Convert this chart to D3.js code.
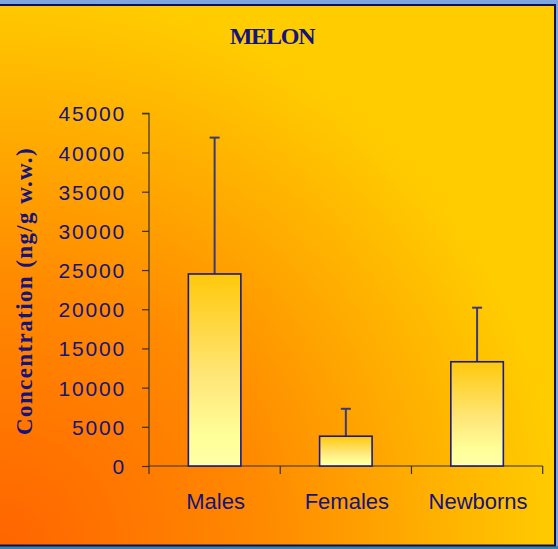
<!DOCTYPE html>
<html><head><meta charset="utf-8">
<script src="https://cdn.jsdelivr.net/npm/d3@7"></script>
<style>html,body{margin:0;padding:0;background:#7fa6de;}svg{display:block;}</style>
</head><body>
<script>
const title = "MELON";
const yLabel = "Concentration (ng/g w.w.)";
const categories = ["Males", "Females", "Newborns"];
const means = [24500, 3800, 13300];
const errorTops = [41900, 7300, 20200];
const yTicks = [0, 5000, 10000, 15000, 20000, 25000, 30000, 35000, 40000, 45000];

(function () {
const W = 558, H = 549;
const svg = d3.select("body").append("svg").attr("width", W).attr("height", H);
const defs = svg.append("defs");

const bg = defs.append("radialGradient").attr("id", "bg")
  .attr("gradientUnits", "userSpaceOnUse").attr("cx", 0).attr("cy", 549).attr("r", 590);
bg.append("stop").attr("offset", 0).attr("stop-color", "#ff6400");
bg.append("stop").attr("offset", 0.45).attr("stop-color", "#ff8a00");
bg.append("stop").attr("offset", 0.72).attr("stop-color", "#ffae00");
bg.append("stop").attr("offset", 0.95).attr("stop-color", "#ffcc00");

const barG = defs.append("linearGradient").attr("id", "bar")
  .attr("x1", 0).attr("y1", 0).attr("x2", 0).attr("y2", 1);
barG.append("stop").attr("offset", 0).attr("stop-color", "#ffc80a");
barG.append("stop").attr("offset", 0.55).attr("stop-color", "#ffe77a");
barG.append("stop").attr("offset", 0.85).attr("stop-color", "#ffff99");
barG.append("stop").attr("offset", 1).attr("stop-color", "#ffffa8");

// frame
svg.append("rect").attr("x", 0).attr("y", 0).attr("width", W).attr("height", H).attr("fill", "#7fa6de");
svg.append("rect").attr("x", 0).attr("y", 546).attr("width", W).attr("height", 3).attr("fill", "#3a86a8");
svg.append("rect").attr("x", 0).attr("y", 5).attr("width", 555).attr("height", 540).attr("fill", "url(#bg)");
svg.append("line").attr("x1", 0).attr("x2", 556).attr("y1", 5).attr("y2", 5).attr("stroke", "#10105a").attr("stroke-width", 2);
svg.append("line").attr("x1", 555).attr("x2", 555).attr("y1", 4).attr("y2", 546).attr("stroke", "#10105a").attr("stroke-width", 2);
svg.append("line").attr("x1", 0).attr("x2", 556).attr("y1", 545.5).attr("y2", 545.5).attr("stroke", "#10105a").attr("stroke-width", 2);

const pLeft = 149, pRight = 542.7, pTop = 113.3, pBottom = 466;
const x = d3.scaleBand().domain(categories).range([pLeft, pRight]).paddingInner(0.6).paddingOuter(0.3);
const xb = d3.scaleBand().domain(categories).range([pLeft, pRight]);
const y = d3.scaleLinear().domain([0, 45000]).range([pBottom, pTop]);

const navy = "#14147a";

// title
svg.append("text").attr("x", 272).attr("y", 44).attr("text-anchor", "middle")
  .attr("font-family", "Liberation Serif, Times New Roman, serif").attr("font-weight", "bold")
  .attr("font-size", 24).attr("letter-spacing", -1.2).attr("fill", navy).text(title);

// y label
svg.append("text").attr("transform", `translate(32,${291}) rotate(-90)`).attr("text-anchor", "middle")
  .attr("font-family", "Liberation Serif, Times New Roman, serif").attr("font-weight", "bold")
  .attr("font-size", 23).attr("letter-spacing", 1.4).attr("fill", navy).text(yLabel);

// y axis
const yAxis = d3.axisLeft(y).tickValues(yTicks).tickSize(7).tickPadding(16).tickFormat(d3.format("d"));
const gy = svg.append("g").attr("transform", `translate(${pLeft},0)`).call(yAxis);
gy.select(".domain").attr("stroke", "#333").attr("stroke-width", 1.2).attr("d", `M-7,${pTop}H0V${pBottom}`);
gy.selectAll(".tick line").attr("stroke", "#333").attr("stroke-width", 1.2);
gy.selectAll(".tick text").attr("fill", navy).attr("font-family", "Liberation Sans, Arial, sans-serif")
  .attr("font-size", 21).attr("letter-spacing", 1.8).attr("dy", "0.36em");

// x axis
const gx = svg.append("g").attr("transform", `translate(0,${pBottom})`);
gx.append("line").attr("x1", pLeft).attr("x2", pRight).attr("y1", 0).attr("y2", 0).attr("stroke", "#333").attr("stroke-width", 1.2);
const xTickPos = categories.map(c => xb(c)).concat([pRight]);
gx.selectAll("line.xt").data(xTickPos).join("line").attr("class", "xt")
  .attr("x1", d => d).attr("x2", d => d).attr("y1", 0).attr("y2", 8).attr("stroke", "#333").attr("stroke-width", 1.2);
gx.selectAll("text").data(categories).join("text")
  .attr("x", d => xb(d) + xb.bandwidth() / 2 + 1).attr("y", 43).attr("text-anchor", "middle")
  .attr("font-family", "Liberation Sans, Arial, sans-serif").attr("font-size", 22).attr("fill", navy).text(d => d);

// error bars
const eb = svg.append("g");
categories.forEach((c, i) => {
  const cx = x(c) + x.bandwidth() / 2;
  eb.append("line").attr("x1", cx).attr("x2", cx).attr("y1", y(means[i])).attr("y2", y(errorTops[i]))
    .attr("stroke", "#3a3a78").attr("stroke-width", 2);
  eb.append("line").attr("x1", cx - 5).attr("x2", cx + 5).attr("y1", y(errorTops[i])).attr("y2", y(errorTops[i]))
    .attr("stroke", "#3a3a78").attr("stroke-width", 2);
});

// bars
svg.append("g").selectAll("rect").data(categories).join("rect")
  .attr("x", d => x(d)).attr("width", x.bandwidth())
  .attr("y", (d, i) => y(means[i])).attr("height", (d, i) => pBottom - y(means[i]))
  .attr("fill", "url(#bar)").attr("stroke", "#1a1a88").attr("stroke-width", 1.6);
})();
</script>
</body></html>
